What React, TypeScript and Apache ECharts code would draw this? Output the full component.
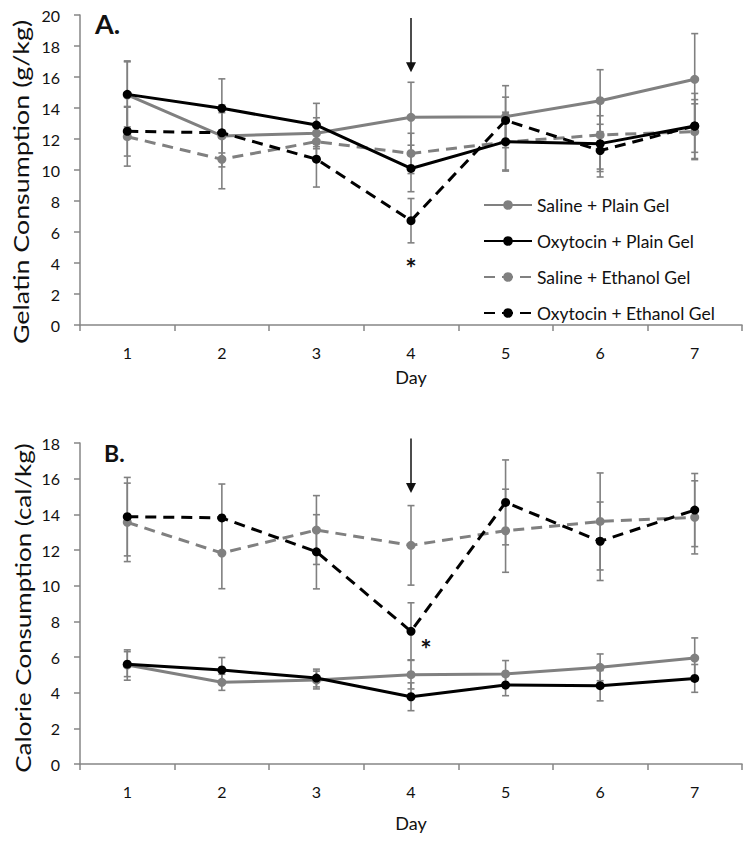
import React, { useEffect, useRef } from "react";
import * as echarts from "echarts";

const days = ["1", "2", "3", "4", "5", "6", "7"];
const seriesNames = ["Saline + Plain Gel", "Oxytocin + Plain Gel", "Saline + Ethanol Gel", "Oxytocin + Ethanol Gel"];

// Panel A: gelatin consumption (g/kg)
const gelSalinePlain = [14.84, 12.2, 12.37, 13.4, 13.44, 14.47, 15.85];
const gelOxyPlain = [14.88, 13.98, 12.9, 10.1, 11.83, 11.7, 12.84];
const gelSalineEthanol = [12.15, 10.69, 11.83, 11.07, 11.8, 12.26, 12.47];
const gelOxyEthanol = [12.5, 12.4, 10.7, 6.73, 13.2, 11.25, 12.84];
const gelSalinePlainErr = [2.2, 2.0, 1.0, 2.26, 2.0, 2.0, 2.95];
const gelOxyPlainErr = [2.1, 1.9, 1.4, 1.5, 1.9, 1.8, 2.1];
const gelSalineEthanolErr = [1.9, 1.9, 1.0, 1.3, 1.8, 2.2, 1.8];
const gelOxyEthanolErr = [1.6, 1.3, 1.8, 1.43, 1.5, 1.7, 1.7];

// Panel B: calorie consumption (cal/kg)
const calSalinePlain = [5.55, 4.58, 4.71, 5.01, 5.05, 5.42, 5.94];
const calOxyPlain = [5.6, 5.27, 4.82, 3.77, 4.43, 4.39, 4.8];
const calSalineEthanol = [13.55, 11.83, 13.12, 12.26, 13.08, 13.6, 13.83];
const calOxyEthanol = [13.87, 13.8, 11.9, 7.44, 14.67, 12.49, 14.24];
const calSalinePlainErr = [0.85, 0.45, 0.5, 0.8, 0.75, 0.75, 1.13];
const calOxyPlainErr = [0.7, 0.7, 0.5, 0.78, 0.6, 0.85, 0.78];
const calSalineEthanolErr = [2.2, 2.0, 1.93, 2.23, 2.33, 2.72, 2.05];
const calOxyEthanolErr = [2.2, 1.9, 2.08, 1.6, 2.38, 2.2, 2.05];

const yNameA = "Gelatin Consumption (g/kg)";
const yNameB = "Calorie Consumption (cal/kg)";

const FONT = "Lato";
const GRAY = "#808080";
const AXIS = "#868686";

function errData(vals: number[], errs: number[]) {
  return vals.map((v, i) => [i, v - errs[i], v + errs[i]]);
}

function errorSeries(vals: number[], errs: number[], idx: number) {
  return {
    type: "custom",
    xAxisIndex: idx,
    yAxisIndex: idx,
    silent: true,
    z: 1,
    encode: { x: 0, y: [1, 2] },
    data: errData(vals, errs),
    renderItem: (params: any, api: any) => {
      const x = api.value(0);
      const lo = api.coord([x, api.value(1)]);
      const hi = api.coord([x, api.value(2)]);
      const w = 3.5;
      const st = { stroke: GRAY, lineWidth: 1.6 };
      return {
        type: "group",
        children: [
          { type: "line", shape: { x1: lo[0], y1: lo[1], x2: hi[0], y2: hi[1] }, style: st },
          { type: "line", shape: { x1: lo[0] - w, y1: lo[1], x2: lo[0] + w, y2: lo[1] }, style: st },
          { type: "line", shape: { x1: hi[0] - w, y1: hi[1], x2: hi[0] + w, y2: hi[1] }, style: st },
        ],
      };
    },
  };
}

function lineSeries(name: string, data: number[], color: string, dashed: boolean, idx: number, z: number) {
  return {
    name,
    type: "line",
    xAxisIndex: idx,
    yAxisIndex: idx,
    data,
    z,
    symbol: "circle",
    symbolSize: 9,
    showSymbol: true,
    itemStyle: { color },
    lineStyle: { color, width: 3, type: dashed ? [11, 7] : "solid" },
  };
}

function annotationSeries(idx: number, arrowTop: number, arrowTip: number, starY: number, starDx: number) {
  return {
    type: "custom",
    xAxisIndex: idx,
    yAxisIndex: idx,
    silent: true,
    z: 10,
    clip: false,
    data: [[3, arrowTop, arrowTip, starY]],
    renderItem: (params: any, api: any) => {
      const top = api.coord([api.value(0), api.value(1)]);
      const tip = api.coord([api.value(0), api.value(2)]);
      const star = api.coord([api.value(0), api.value(3)]);
      return {
        type: "group",
        children: [
          { type: "line", shape: { x1: top[0], y1: top[1], x2: tip[0], y2: tip[1] - 8 }, style: { stroke: "#111", lineWidth: 1.5 } },
          { type: "polygon", shape: { points: [[tip[0] - 5, tip[1] - 10], [tip[0] + 5, tip[1] - 10], [tip[0], tip[1]]] }, style: { fill: "#111" } },
          { type: "text", x: star[0] + starDx, y: star[1], style: { text: "*", fill: "#111", font: `bold 27px ${FONT}`, align: "center", verticalAlign: "middle" } },
        ],
      };
    },
  };
}

function xAxis(idx: number, nameGap: number) {
  return {
    type: "category",
    gridIndex: idx,
    data: days,
    boundaryGap: true,
    name: "Day",
    nameLocation: "middle",
    nameGap,
    nameTextStyle: { fontFamily: FONT, fontSize: 18, color: "#111" },
    axisLine: { lineStyle: { color: AXIS, width: 1.5 } },
    axisTick: { show: true, length: 6, alignWithLabel: false, lineStyle: { color: AXIS, width: 1.5 } },
    axisLabel: { fontFamily: FONT, fontSize: 16, color: "#111", margin: 19 },
    splitLine: { show: false },
  };
}

function yAxis(idx: number, max: number) {
  return {
    type: "value",
    gridIndex: idx,
    min: 0,
    max,
    interval: 2,
    axisLine: { show: true, lineStyle: { color: AXIS, width: 1.5 } },
    axisTick: { show: true, length: 6, lineStyle: { color: AXIS, width: 1.5 } },
    axisLabel: { fontFamily: FONT, fontSize: 16, color: "#111", margin: 20 },
    splitLine: { show: false },
  };
}

export default function App() {
  const ref = useRef<HTMLDivElement>(null);
  useEffect(() => {
    if (!ref.current) return;
    const chart = echarts.init(ref.current, null, { renderer: "svg" });
    chart.setOption({
      animation: false,
      backgroundColor: "#fff",
      grid: [
        { left: 80, top: 15, width: 662, height: 310 },
        { left: 80, top: 443, width: 662, height: 321 },
      ],
      xAxis: [xAxis(0, 43), xAxis(1, 50)],
      yAxis: [yAxis(0, 20), yAxis(1, 18)],
      legend: {
        data: seriesNames,
        orient: "vertical",
        left: 478,
        top: 190,
        itemWidth: 48,
        itemHeight: 12,
        itemGap: 16,
        textStyle: { fontFamily: FONT, fontSize: 17.5, color: "#111", lineHeight: 20 },
      },
      graphic: [
        { type: "text", x: 95, y: 23, style: { text: "A.", font: `bold 27px ${FONT}`, fill: "#111", align: "left", verticalAlign: "middle" } },
        { type: "text", x: 104, y: 453, style: { text: "B.", font: `bold 23px ${FONT}`, fill: "#111", align: "left", verticalAlign: "middle" } },
        { type: "text", x: 20, y: 182, rotation: Math.PI / 2, scaleX: 1.22, style: { text: yNameA, font: `22px ${FONT}`, fill: "#111", align: "center", verticalAlign: "middle" } },
        { type: "text", x: 22, y: 608, rotation: Math.PI / 2, scaleX: 1.18, style: { text: yNameB, font: `22px ${FONT}`, fill: "#111", align: "center", verticalAlign: "middle" } },
      ],
      series: [
        errorSeries(gelSalinePlain, gelSalinePlainErr, 0),
        errorSeries(gelOxyPlain, gelOxyPlainErr, 0),
        errorSeries(gelSalineEthanol, gelSalineEthanolErr, 0),
        errorSeries(gelOxyEthanol, gelOxyEthanolErr, 0),
        lineSeries(seriesNames[0], gelSalinePlain, GRAY, false, 0, 2),
        lineSeries(seriesNames[1], gelOxyPlain, "#000", false, 0, 4),
        lineSeries(seriesNames[2], gelSalineEthanol, GRAY, true, 0, 3),
        lineSeries(seriesNames[3], gelOxyEthanol, "#000", true, 0, 5),
        annotationSeries(0, 19.8, 16.3, 3.72, 0),
        errorSeries(calSalinePlain, calSalinePlainErr, 1),
        errorSeries(calOxyPlain, calOxyPlainErr, 1),
        errorSeries(calSalineEthanol, calSalineEthanolErr, 1),
        errorSeries(calOxyEthanol, calOxyEthanolErr, 1),
        lineSeries(seriesNames[0], calSalinePlain, GRAY, false, 1, 2),
        lineSeries(seriesNames[1], calOxyPlain, "#000", false, 1, 4),
        lineSeries(seriesNames[2], calSalineEthanol, GRAY, true, 1, 3),
        lineSeries(seriesNames[3], calOxyEthanol, "#000", true, 1, 5),
        annotationSeries(1, 18.25, 15.2, 6.45, 15),
      ],
    });
    return () => chart.dispose();
  }, []);
  return <div ref={ref} style={{ position: "absolute", left: 0, top: 0, width: 750, height: 841 }} />;
}
